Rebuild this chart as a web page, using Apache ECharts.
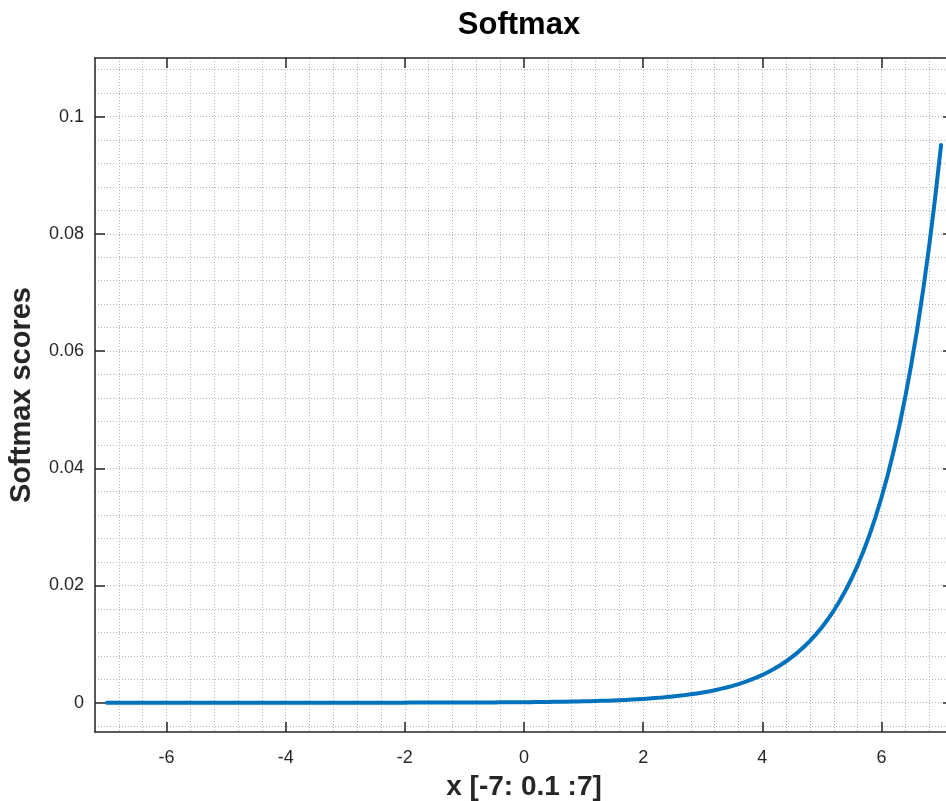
<!DOCTYPE html>
<html>
<head>
<meta charset="utf-8">
<title>Softmax</title>
<script src="https://cdn.jsdelivr.net/npm/echarts@6/dist/echarts.min.js"></script>
<style>
  html, body { margin: 0; padding: 0; background: #ffffff; }
  #chart { width: 946px; height: 801px; }
</style>
</head>
<body>
<div id="chart"></div>
<script>
// Sample points x = -7 : 0.1 : 7
const xs = [
  -7.0, -6.9, -6.8, -6.7, -6.6, -6.5, -6.4, -6.3, -6.2, -6.1,
  -6.0, -5.9, -5.8, -5.7, -5.6, -5.5, -5.4, -5.3, -5.2, -5.1,
  -5.0, -4.9, -4.8, -4.7, -4.6, -4.5, -4.4, -4.3, -4.2, -4.1,
  -4.0, -3.9, -3.8, -3.7, -3.6, -3.5, -3.4, -3.3, -3.2, -3.1,
  -3.0, -2.9, -2.8, -2.7, -2.6, -2.5, -2.4, -2.3, -2.2, -2.1,
  -2.0, -1.9, -1.8, -1.7, -1.6, -1.5, -1.4, -1.3, -1.2, -1.1,
  -1.0, -0.9, -0.8, -0.7, -0.6, -0.5, -0.4, -0.3, -0.2, -0.1,
   0.0,  0.1,  0.2,  0.3,  0.4,  0.5,  0.6,  0.7,  0.8,  0.9,
   1.0,  1.1,  1.2,  1.3,  1.4,  1.5,  1.6,  1.7,  1.8,  1.9,
   2.0,  2.1,  2.2,  2.3,  2.4,  2.5,  2.6,  2.7,  2.8,  2.9,
   3.0,  3.1,  3.2,  3.3,  3.4,  3.5,  3.6,  3.7,  3.8,  3.9,
   4.0,  4.1,  4.2,  4.3,  4.4,  4.5,  4.6,  4.7,  4.8,  4.9,
   5.0,  5.1,  5.2,  5.3,  5.4,  5.5,  5.6,  5.7,  5.8,  5.9,
   6.0,  6.1,  6.2,  6.3,  6.4,  6.5,  6.6,  6.7,  6.8,  6.9,
   7.0
];

// Softmax score at each sample point
const scores = [
  0.000000, 0.000000, 0.000000, 0.000000, 0.000000, 0.000000, 0.000000, 0.000000, 0.000000, 0.000000,
  0.000000, 0.000000, 0.000000, 0.000000, 0.000000, 0.000000, 0.000000, 0.000000, 0.000000, 0.000001,
  0.000001, 0.000001, 0.000001, 0.000001, 0.000001, 0.000001, 0.000001, 0.000001, 0.000001, 0.000001,
  0.000002, 0.000002, 0.000002, 0.000002, 0.000002, 0.000003, 0.000003, 0.000003, 0.000004, 0.000004,
  0.000004, 0.000005, 0.000005, 0.000006, 0.000006, 0.000007, 0.000008, 0.000009, 0.000010, 0.000011,
  0.000012, 0.000013, 0.000014, 0.000016, 0.000018, 0.000019, 0.000021, 0.000024, 0.000026, 0.000029,
  0.000032, 0.000035, 0.000039, 0.000043, 0.000048, 0.000053, 0.000058, 0.000064, 0.000071, 0.000079,
  0.000087, 0.000096, 0.000106, 0.000117, 0.000129, 0.000143, 0.000158, 0.000175, 0.000193, 0.000213,
  0.000236, 0.000261, 0.000288, 0.000318, 0.000352, 0.000389, 0.000430, 0.000475, 0.000525, 0.000580,
  0.000641, 0.000709, 0.000783, 0.000866, 0.000957, 0.001057, 0.001168, 0.001291, 0.001427, 0.001577,
  0.001743, 0.001926, 0.002129, 0.002353, 0.002600, 0.002874, 0.003176, 0.003510, 0.003879, 0.004287,
  0.004738, 0.005236, 0.005787, 0.006395, 0.007068, 0.007811, 0.008633, 0.009541, 0.010544, 0.011653,
  0.012879, 0.014233, 0.015730, 0.017385, 0.019213, 0.021234, 0.023467, 0.025935, 0.028662, 0.031677,
  0.035008, 0.038690, 0.042759, 0.047256, 0.052226, 0.057719, 0.063789, 0.070498, 0.077912, 0.086107,
  0.095163
];

// Labelled (major) ticks
const xTicks = [-6, -4, -2, 0, 2, 4, 6];
const yTicks = [0, 0.02, 0.04, 0.06, 0.08, 0.1];

// Axis limits
const xLimits = [-7.2, 7.2];
const yLimits = [-0.005, 0.11];

// Minor grid spacing
const xMinorStep = 0.4;
const yMinorStep = 0.004;

// Minor grid positions inside the y limits
const yMinor = [];
for (let k = Math.ceil(yLimits[0] / yMinorStep); k * yMinorStep <= yLimits[1] + 1e-12; k++) {
  yMinor.push(+(k * yMinorStep).toFixed(6));
}

const FONT = "'Liberation Sans', Arial, Helvetica, sans-serif";
const INK = '#262626';
const gridLine = { show: true, lineStyle: { color: '#b4b4b4', width: 1, type: [1, 2] } };
const boxLine = { show: true, onZero: false, lineStyle: { color: INK, width: 1.5 } };
const majorTick = (vals) => ({
  show: true, inside: true, length: 10, customValues: vals,
  lineStyle: { color: INK, width: 1.5 }
});

const chart = echarts.init(document.getElementById('chart'), null, { renderer: 'canvas' });

chart.setOption({
  animation: false,
  backgroundColor: '#ffffff',
  title: {
    text: 'Softmax',
    left: 514,
    top: 5,
    textAlign: 'center',
    textStyle: { fontFamily: FONT, fontSize: 31, fontWeight: 'bold', color: '#000000' }
  },
  // the plot box runs a little past the right edge of the canvas
  grid: { left: 95, top: 58, width: 858, height: 674, containLabel: false, outerBoundsMode: 'none' },
  xAxis: [
    { // dotted grid
      type: 'value', min: xLimits[0], max: xLimits[1], interval: xMinorStep,
      axisLine: { show: false }, axisTick: { show: false }, axisLabel: { show: false },
      splitLine: gridLine
    },
    { // bottom edge: ticks, labels, name
      type: 'value', position: 'bottom', min: xLimits[0], max: xLimits[1],
      axisLine: boxLine, axisTick: majorTick(xTicks),
      axisLabel: {
        customValues: xTicks, margin: 17, color: INK, fontFamily: FONT, fontSize: 18
      },
      splitLine: { show: false },
      name: 'x [-7: 0.1 :7]', nameLocation: 'middle', nameGap: 41,
      nameTextStyle: { fontFamily: FONT, fontSize: 28, fontWeight: 'bold', color: INK }
    },
    { // top edge
      type: 'value', position: 'top', min: xLimits[0], max: xLimits[1],
      axisLine: boxLine, axisTick: majorTick(xTicks), axisLabel: { show: false },
      splitLine: { show: false }
    }
  ],
  yAxis: [
    { // dotted grid
      type: 'value', min: yLimits[0], max: yLimits[1],
      axisLine: { show: false },
      axisTick: { show: false, customValues: yMinor },
      axisLabel: { show: false },
      splitLine: gridLine
    },
    { // left edge: ticks, labels, name
      type: 'value', position: 'left', min: yLimits[0], max: yLimits[1],
      axisLine: boxLine, axisTick: majorTick(yTicks),
      axisLabel: {
        customValues: yTicks, margin: 11, color: INK, fontFamily: FONT, fontSize: 18
      },
      splitLine: { show: false },
      name: 'Softmax scores', nameLocation: 'middle', nameGap: 59, nameRotate: 90,
      nameTextStyle: { fontFamily: FONT, fontSize: 29, fontWeight: 'bold', color: INK }
    },
    { // right edge
      type: 'value', position: 'right', min: yLimits[0], max: yLimits[1],
      axisLine: boxLine, axisTick: majorTick(yTicks), axisLabel: { show: false },
      splitLine: { show: false }
    }
  ],
  series: [
    {
      type: 'line',
      xAxisIndex: 0,
      yAxisIndex: 0,
      data: xs.map((x, i) => [x, scores[i]]),
      showSymbol: false,
      smooth: false,
      lineStyle: { color: '#0072BD', width: 4, cap: 'round', join: 'round' },
      z: 5
    }
  ]
});
</script>
</body>
</html>
